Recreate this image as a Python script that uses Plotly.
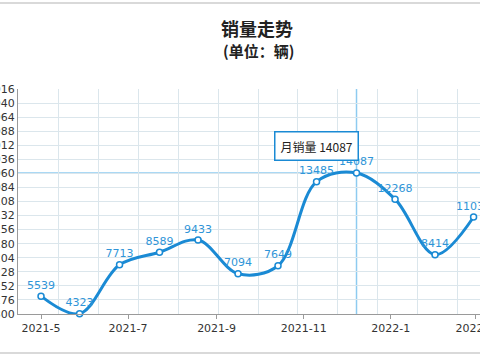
import plotly.graph_objects as go

# Data
dates = ["2021-05-01", "2021-05-28", "2021-06-25", "2021-07-23", "2021-08-19",
         "2021-09-16", "2021-10-14", "2021-11-10", "2021-12-08", "2022-01-04",
         "2022-02-01", "2022-02-28"]
sales = [5539, 4323, 7713, 8589, 9433, 7094, 7649, 13485, 14087, 12268, 8414, 11032]
highlight_index = 8

title_main = "销量走势"
title_sub = "(单位：辆)"
series_name = "月销量"

blue = "#1a8ad4"
label_blue = "#2f95d8"
grid = "#dbe6ec"
cross = "#8ecbf0"

fig = go.Figure()

fig.add_trace(go.Scatter(
    x=dates, y=sales, mode="lines+markers+text",
    line=dict(color=blue, width=3, shape="spline", smoothing=1.0),
    marker=dict(symbol="circle", size=6, color="white", line=dict(color=blue, width=1.5)),
    text=[str(v) for v in sales], textposition="top center",
    textfont=dict(family="DejaVu Sans", size=11, color=label_blue),
    cliponaxis=False, showlegend=False, hoverinfo="skip",
))

# invisible trace for the secondary grid axis
fig.add_trace(go.Scatter(x=[dates[0]], y=[sales[0]], xaxis="x2", mode="markers",
                         marker=dict(opacity=0), showlegend=False, hoverinfo="skip"))

x_range = ["2021-04-14 21:00", "2022-03-04 12:00"]

fig.update_layout(
    width=480, height=360,
    margin=dict(l=18, r=0, t=89, b=46, autoexpand=False),
    paper_bgcolor="white", plot_bgcolor="white",
    showlegend=False,
    xaxis=dict(
        type="date", range=x_range, tick0="2021-05-01", dtick="M2",
        tickformat="%Y-%-m", showgrid=False, zeroline=False, automargin=False,
        showline=True, linecolor="#9a9a9a", linewidth=1,
        ticks="outside", ticklen=4, tickcolor="#9a9a9a",
        tickfont=dict(family="DejaVu Sans", size=11, color="#333333"),
        ticklabeloverflow="allow", fixedrange=True,
    ),
    xaxis2=dict(
        type="date", range=x_range, overlaying="x", tick0="2021-04-15",
        dtick=28 * 86400000, showgrid=True, gridcolor=grid, gridwidth=1,
        showticklabels=False, ticks="", zeroline=False, showline=False,
        automargin=False, fixedrange=True,
    ),
    yaxis=dict(
        range=[4300, 19916], tick0=4300, dtick=976, tickformat="d",
        showgrid=True, gridcolor=grid, gridwidth=1, zeroline=False,
        showline=True, linecolor="#9a9a9a", linewidth=1, automargin=False,
        ticks="", tickfont=dict(family="DejaVu Sans", size=11, color="#333333"),
        ticklabeloverflow="allow", fixedrange=True,
    ),
    annotations=[
        dict(text="<b>" + title_main + "</b>", xref="paper", yref="paper",
             x=(257 - 18) / 462, y=(314 - 28) / 225, showarrow=False,
             xanchor="center", yanchor="middle",
             font=dict(family="Noto Sans CJK SC", size=18, color="#222222")),
        dict(text="<b>" + title_sub + "</b>", xref="paper", yref="paper",
             x=(258 - 18) / 462, y=(314 - 50) / 225, showarrow=False,
             xanchor="center", yanchor="middle",
             font=dict(family="Noto Sans CJK SC", size=15, color="#222222")),
        dict(text=f"{series_name} {sales[highlight_index]}", x=dates[highlight_index],
             y=sales[highlight_index], xref="x", yref="y", showarrow=False,
             xshift=-40, yshift=27, bgcolor="white", bordercolor=blue,
             borderwidth=1.5, borderpad=5,
             font=dict(family="Noto Sans CJK SC", size=12, color="#222222")),
    ],
    shapes=[
        dict(type="line", xref="x", yref="paper", x0=dates[highlight_index],
             x1=dates[highlight_index], y0=0, y1=1, line=dict(color=cross, width=1.5),
             layer="below"),
        dict(type="line", xref="paper", yref="y", x0=0, x1=1,
             y0=sales[highlight_index], y1=sales[highlight_index],
             line=dict(color=cross, width=1.5), layer="below"),
        dict(type="line", xref="paper", yref="paper", x0=-0.05, x1=1.05,
             y0=(314 - 3) / 225, y1=(314 - 3) / 225, line=dict(color="#cccccc", width=1.5)),
        dict(type="line", xref="paper", yref="paper", x0=-0.05, x1=1.05,
             y0=(314 - 353) / 225, y1=(314 - 353) / 225, line=dict(color="#cccccc", width=1.5)),
    ],
)

fig.write_html("out.html", config={"displayModeBar": False},
               post_script="document.body.style.margin='0';document.body.style.overflow='hidden';")
